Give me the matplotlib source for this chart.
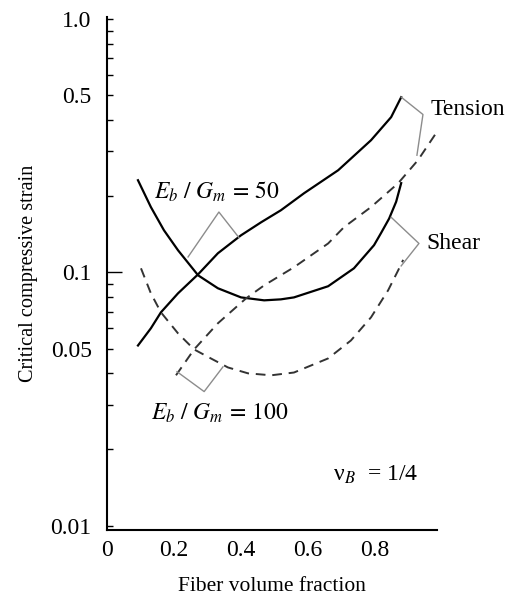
import matplotlib.pyplot as plt
import matplotlib.ticker as mticker

plt.rcParams['font.family'] = ['Liberation Serif', 'DejaVu Serif']
plt.rcParams['mathtext.fontset'] = 'stix'

# curves (fiber volume fraction, critical strain)
shear50_x = [0.0925, 0.131, 0.170, 0.212, 0.272, 0.331, 0.400, 0.469, 0.519, 0.558,
             0.660, 0.737, 0.797, 0.818, 0.842, 0.863, 0.878]
shear50_y = [0.231, 0.181, 0.1466, 0.1222, 0.0973, 0.0865, 0.0796, 0.0775, 0.0782, 0.0796,
             0.0881, 0.1037, 0.128, 0.143, 0.163, 0.190, 0.225]

tension50_x = [0.0925, 0.131, 0.161, 0.212, 0.272, 0.331, 0.400, 0.460, 0.519, 0.588,
               0.690, 0.788, 0.848, 0.878]
tension50_y = [0.0514, 0.0601, 0.0695, 0.0826, 0.0982, 0.1189, 0.140, 0.1576, 0.1758, 0.2052,
               0.2530, 0.3324, 0.410, 0.4915]

shear100_x = [0.1015, 0.131, 0.161, 0.212, 0.260, 0.310, 0.361, 0.421, 0.490, 0.558,
              0.660, 0.728, 0.788, 0.839, 0.869, 0.884]
shear100_y = [0.1037, 0.0826, 0.0695, 0.0574, 0.0496, 0.0457, 0.0421, 0.0399, 0.0392, 0.0402,
              0.0457, 0.0538, 0.0664, 0.0849, 0.1018, 0.112]

tension100_x = [0.206, 0.260, 0.331, 0.415, 0.469, 0.558, 0.660, 0.707, 0.788, 0.869,
                0.928, 0.982]
tension100_y = [0.0392, 0.0496, 0.0629, 0.0789, 0.0888, 0.1047, 0.130, 0.1506, 0.181, 0.2248,
                0.2772, 0.3543]

x_ticks = [0, 0.2, 0.4, 0.6, 0.8]
x_ticklabels = ['0', '0.2', '0.4', '0.6', '0.8']
y_ticks = [0.01, 0.05, 0.1, 0.5, 1.0]
y_ticklabels = ['0.01', '0.05', '0.1', '0.5', '1.0']

fig = plt.figure(figsize=(5.07, 5.98), dpi=100)
ax = fig.add_axes([0.211, 0.1137, 0.651, 0.858])

ax.plot(shear50_x, shear50_y, color='black', lw=1.6)
ax.plot(tension50_x, tension50_y, color='black', lw=1.6)
ax.plot(shear100_x, shear100_y, color='#333333', lw=1.4, ls=(0, (5, 3.5)))
ax.plot(tension100_x, tension100_y, color='#333333', lw=1.4, ls=(0, (5, 3.5)))

ax.set_yscale('log')
ax.set_xlim(0.0, 0.985)
ax.set_ylim(0.0096, 1.02)

# bracket leaders
lead = dict(color='#8c8c8c', lw=1.0)
ax.plot([0.242, 0.334, 0.394], [0.115, 0.173, 0.137], **lead)
ax.plot([0.209, 0.290, 0.346], [0.0405, 0.0338, 0.0423], **lead)
ax.plot([0.878, 0.943, 0.925], [0.492, 0.420, 0.290], **lead)
ax.plot([0.848, 0.931, 0.878], [0.165, 0.130, 0.106], **lead)

ax.text(0.965, 0.44, 'Tension', fontsize=17, va='center', ha='left')
ax.text(0.953, 0.130, 'Shear', fontsize=17, va='center', ha='left')
ax.text(0.14, 0.207, r'$E_b\ /\ G_m\,=\,50$', fontsize=17, va='center', ha='left')
ax.text(0.13, 0.0277, r'$E_b\ /\ G_m\,=\,100$', fontsize=17, va='center', ha='left')
ax.text(0.675, 0.0158, 'ν' + r'$_B$' + '  = 1/4', fontsize=17, va='center', ha='left')

ax.spines['top'].set_visible(False)
ax.spines['right'].set_visible(False)
ax.spines['left'].set_linewidth(1.5)
ax.spines['bottom'].set_linewidth(1.5)

ax.set_xticks(x_ticks)
ax.set_xticklabels(x_ticklabels)
ax.tick_params(axis='x', length=0, pad=7, labelsize=17)

ax.yaxis.set_major_locator(mticker.FixedLocator(y_ticks))
ax.yaxis.set_major_formatter(mticker.FixedFormatter(y_ticklabels))
ax.yaxis.set_minor_locator(mticker.LogLocator(base=10, subs=(2, 3, 4, 5, 6, 7, 8, 9)))
ax.yaxis.set_minor_formatter(mticker.NullFormatter())
ax.tick_params(axis='y', which='both', direction='in', length=4, width=1.0, labelsize=17, pad=11)
ax.yaxis.get_major_ticks()[2].tick1line.set_markersize(11)

ax.set_xlabel('Fiber volume fraction', fontsize=15.5, labelpad=12)
ax.set_ylabel('Critical compressive strain', fontsize=14.6, labelpad=9)

fig.savefig('out.png', dpi=100)
